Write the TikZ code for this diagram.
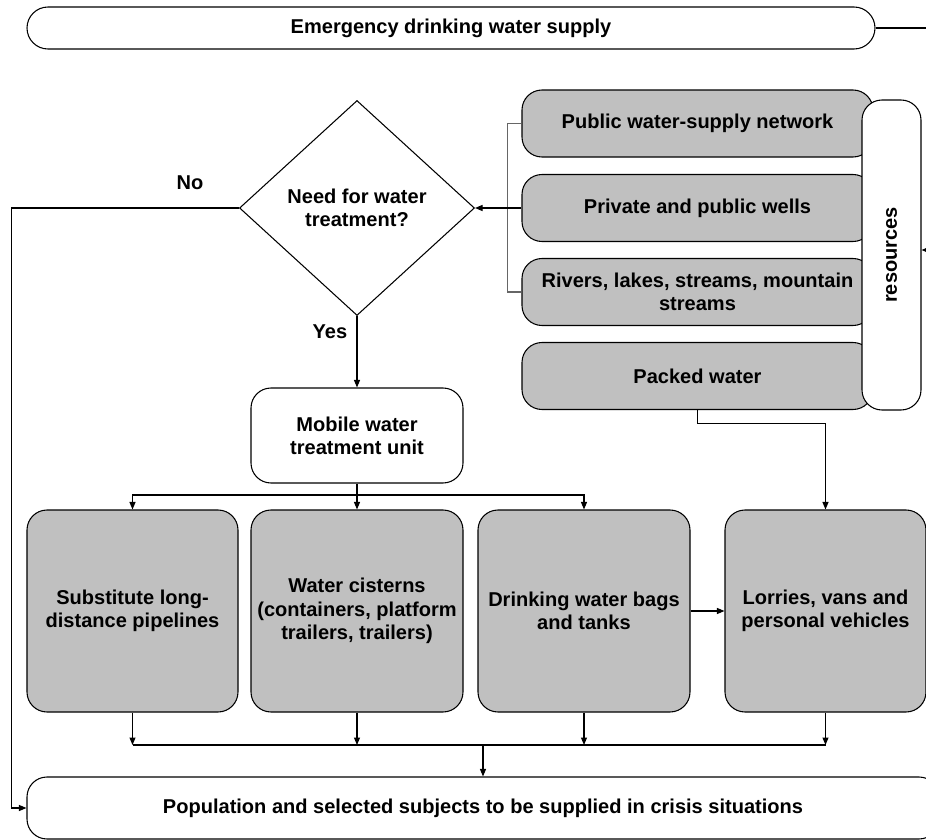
\documentclass[tikz,border=0pt]{standalone}
\usepackage{fontspec}
\setmainfont{Liberation Sans}
\usepackage{tikz}
\usetikzlibrary{
  arrows.meta,
  shapes.geometric,
  positioning,
  calc
}
\definecolor{boxgray}{RGB}{192,192,192}
\tikzset{
  white box/.style={
    draw, rectangle, rounded corners=0.4cm,
    fill=white, line width=0.6pt,
    align=center
  },
  gray box/.style={
    white box, fill=boxgray
  },
  decision/.style={
    draw, diamond, inner sep=0pt,
    minimum width=4.7cm, minimum height=4.3cm,
    line width=0.6pt, align=center
  },
  flow arrow/.style={
    -{Triangle[length=0.15cm,width=0.12cm]}, line width=0.6pt
  },
  plain line/.style={
    line width=0.6pt
  },
}

\begin{document}
\begin{tikzpicture}[font=\bfseries\fontsize{11.4}{13.2}\selectfont]

  \useasboundingbox (0,0) rectangle (18.52,-16.8);

  \node[white box, rounded corners=0.42cm, minimum width=16.96cm, minimum height=0.84cm]
    (supply) at (9.02,-0.56) {Emergency drinking water supply};

  \node[decision] (need) at (7.14,-4.16) {Need for water\\treatment?};

  \node[gray box, minimum width=7.02cm, minimum height=1.34cm]
    (public) at (13.95,-2.47) {Public water-supply network};
  \node[gray box, minimum width=7.02cm, minimum height=1.34cm]
    (wells)  at (13.95,-4.16) {Private and public wells};
  \node[gray box, minimum width=7.02cm, minimum height=1.34cm]
    (rivers) at (13.95,-5.84) {Rivers, lakes, streams, mountain\\streams};
  \node[gray box, minimum width=7.02cm, minimum height=1.34cm]
    (packed) at (13.95,-7.52) {Packed water};

  \node[white box, minimum width=1.18cm, minimum height=6.2cm]
    (resources) at (17.83,-5.1) {\rotatebox{90}{resources}};

  \node (no)  at (3.8,-3.66) {No};
  \node (yes) at (6.6,-6.64) {Yes};

  \node[white box, minimum width=4.24cm, minimum height=1.9cm]
    (mobile) at (7.14,-8.71) {Mobile water\\treatment unit};

  \node[gray box, minimum width=4.22cm, minimum height=4.04cm]
    (pipes)    at (2.65,-12.22)  {Substitute long-\\distance pipelines};
  \node[gray box, minimum width=4.24cm, minimum height=4.04cm]
    (cisterns) at (7.14,-12.22)  {Water cisterns\\(containers, platform\\trailers, trailers)};
  \node[gray box, minimum width=4.24cm, minimum height=4.04cm]
    (bags)     at (11.68,-12.22) {Drinking water bags\\and tanks};
  \node[gray box, minimum width=4.02cm, minimum height=4.04cm]
    (vehicles) at (16.51,-12.22) {Lorries, vans and\\personal vehicles};

  \node[white box, minimum width=18.24cm, minimum height=1.24cm]
    (population) at (9.66,-16.16)
    {Population and selected subjects to be supplied in crisis situations};

  \coordinate (supplyout) at (18.52,-0.56);
  \coordinate (resin)     at (18.52,-5.0);
  \coordinate (split)     at (7.14,-9.9);
  \coordinate (bus)       at (9.66,-14.9);

  \draw[plain line] (supply.east) -- (supplyout);
  \draw[flow arrow] (resin) -- (resources.east |- resin);

  \draw[plain line, black!60] (public.west) -- ++(-0.28,0) |- (rivers.west);
  \draw[flow arrow] (wells.west) -- (need.east);

  \draw[flow arrow] (need.west) -- ++(-4.55,0) |- (population.west);
  \draw[flow arrow] (need.south) -- (mobile.north);

  \draw[plain line] (mobile.south) -- (split);
  \draw[flow arrow] (split) -| (pipes.north);
  \draw[flow arrow] (split) -- (cisterns.north);
  \draw[flow arrow] (split) -| (bags.north);

  \draw[flow arrow] (packed.south) -- ++(0,-0.26) -| (vehicles.north);
  \draw[flow arrow] (bags.east) -- (vehicles.west);

  \draw[plain line] (pipes.south |- bus) -- (vehicles.south |- bus);
  \foreach \b in {pipes, cisterns, bags, vehicles}
    \draw[flow arrow] (\b.south) -- (\b.south |- bus);
  \draw[flow arrow] (bus) -- (population.north);

\end{tikzpicture}
\end{document}
